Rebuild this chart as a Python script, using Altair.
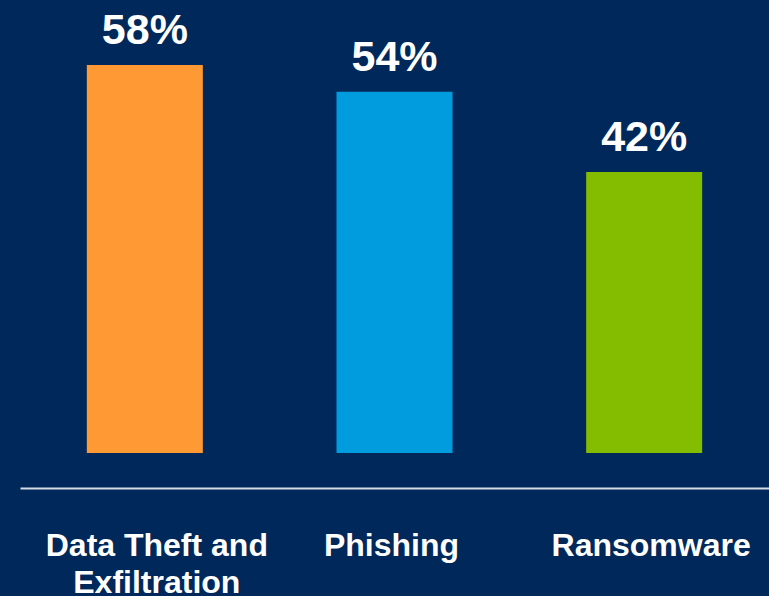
import altair as alt
import pandas as pd

categories = ["Data Theft and\nExfiltration", "Phishing", "Ransomware"]
values = [58, 54, 42]
colors = ["#FF9933", "#009CDE", "#84BD00"]

df = pd.DataFrame({"category": categories, "value": values,
                   "label": [f"{v}%" for v in values]})

FONT = "Liberation Sans"
BG = "#00285A"

x = alt.X("category:N", sort=categories,
          scale=alt.Scale(paddingInner=0, paddingOuter=0),
          axis=alt.Axis(title=None, labelAngle=0, ticks=False, offset=35,
                        domainColor="#D5DCE5", domainWidth=2,
                        labelFont=FONT, labelFontSize=32, labelFontWeight="bold",
                        labelColor="white", labelPadding=42, labelBaseline="top",
                        labelLineHeight=37, labelLimit=400,
                        labelOffset={"expr": "datum.value === 'Phishing' ? -3 : datum.value === 'Ransomware' ? 7 : 12"},
                        labelExpr="split(datum.label, '\\n')"))
y = alt.Y("value:Q", scale=alt.Scale(domain=[0, 67.71], nice=False, zero=True),
          axis=None)

bars = alt.Chart(df).mark_bar(size=116).encode(
    x=x, y=y,
    color=alt.Color("category:N", scale=alt.Scale(domain=categories, range=colors),
                    legend=None),
)

text = alt.Chart(df).mark_text(font=FONT, fontSize=43, fontWeight="bold",
                               color="white", baseline="alphabetic", dy=-21).encode(
    x=alt.X("category:N", sort=categories), y=y, text="label:N"
)

chart = alt.layer(bars, text).properties(
    width=749, height=453,
    autosize=alt.AutoSizeParams(type="none"),
    padding={"left": 20, "top": 0, "right": 0, "bottom": 143},
    background=BG,
).configure_view(stroke=None)

chart.save("out.html", embed_options={"renderer": "svg", "actions": False})
